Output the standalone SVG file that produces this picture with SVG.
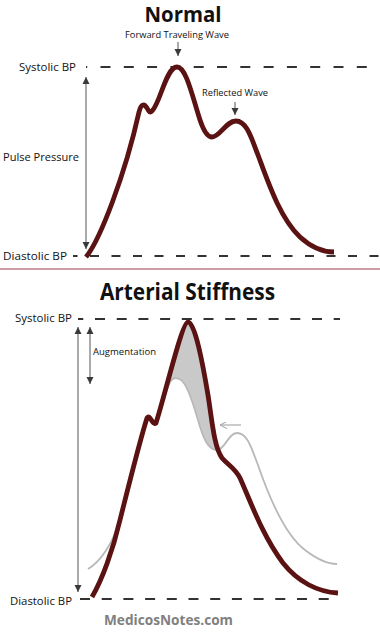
<svg xmlns="http://www.w3.org/2000/svg" width="380" height="637" viewBox="0 0 380 637">
<style>
.t{font-family:"Open Sans","Noto Sans","Liberation Sans",sans-serif;fill:#111;}
.b{font-weight:bold;}
.dash{stroke:#333;stroke-width:2;fill:none;}
.ar{stroke:#555;stroke-width:1;fill:none;}
.wave{stroke:#5a1212;stroke-width:4.8;fill:none;stroke-linecap:butt;stroke-linejoin:round;}
.gw{stroke:#b8b8b8;stroke-width:1.8;fill:none;}
</style>
<defs>
<marker id="ah" viewBox="0 0 10 10" refX="10" refY="5" markerWidth="7" markerHeight="8" markerUnits="userSpaceOnUse" orient="auto-start-reverse">
<path d="M0,0 L10,5 L0,10 Z" fill="#3a3a3a"/>
</marker>
<marker id="ahg" viewBox="0 0 10 10" refX="10" refY="5" markerWidth="7" markerHeight="7" markerUnits="userSpaceOnUse" orient="auto">
<path d="M0,0 L10,5 L0,10" fill="none" stroke="#aaa" stroke-width="1.5"/>
</marker>
</defs>
<rect width="380" height="637" fill="#fff"/>

<g id="normal-title"><text class="t b" x="183" y="22" font-size="20.5" text-anchor="middle" textLength="77" lengthAdjust="spacingAndGlyphs">Normal</text></g>
<g id="forward-label"><text class="t" x="177" y="38" font-size="9.5" text-anchor="middle" textLength="104" lengthAdjust="spacingAndGlyphs">Forward Traveling Wave</text></g>
<g id="reflected-label"><text class="t" x="235" y="96" font-size="9.5" text-anchor="middle" textLength="66" lengthAdjust="spacingAndGlyphs">Reflected Wave</text></g>
<g id="sys-top"><text class="t" x="19" y="71" font-size="11" textLength="57" lengthAdjust="spacingAndGlyphs">Systolic BP</text>
<line class="dash" x1="86" y1="67" x2="380" y2="67" stroke-dasharray="10 13.3" stroke-dashoffset="8.8"/></g>
<g id="pulse-label"><text class="t" x="3" y="161" font-size="11" textLength="76" lengthAdjust="spacingAndGlyphs">Pulse Pressure</text></g>
<g id="dia-top"><text class="t" x="3" y="260" font-size="11" textLength="64" lengthAdjust="spacingAndGlyphs">Diastolic BP</text>
<line class="dash" x1="73" y1="256" x2="380" y2="256" stroke-dasharray="9 12.5" stroke-dashoffset="4.5"/></g>

<g id="normal-wave">
<path class="wave" d="M86,257 C100,240 125,175 139,112 C141,104 144,103 147,108 C149,112 150,113 152,111 C160,104 166,67 177,67 C186,67 192,95 200,120 C204,132 208,137 212,137 C220,137 226,121 236,121 C247,121 252,140 258,155 C268,182 280,218 300,237 C312,248 325,252 334,252"/>
</g>

<line x1="0" y1="269" x2="380" y2="269" stroke="#9c3c4c" stroke-width="1.2"/>

<g id="stiff-title"><text class="t b" x="187.5" y="300" font-size="23" text-anchor="middle" textLength="175" lengthAdjust="spacingAndGlyphs">Arterial Stiffness</text></g>
<g id="sys-bottom"><text class="t" x="15" y="322" font-size="11" textLength="57" lengthAdjust="spacingAndGlyphs">Systolic BP</text>
<line class="dash" x1="78" y1="319" x2="340" y2="319" stroke-dasharray="10 11.7" stroke-dashoffset="4.7"/></g>
<g id="aug-label"><text class="t" x="93" y="355" font-size="9.5" textLength="63" lengthAdjust="spacingAndGlyphs">Augmentation</text></g>
<g id="dia-bottom"><text class="t" x="10" y="605" font-size="11" textLength="62" lengthAdjust="spacingAndGlyphs">Diastolic BP</text>
<line class="dash" x1="78" y1="599" x2="340" y2="599" stroke-dasharray="10 11.7" stroke-dashoffset="-2"/></g>

<g id="stiff-waves">
<path d="M156,423 C165,395 182,322 188,322 C195,322 203,365 208,395 C211,415 213,438 217,450 C208,450 203,438 198,420 C192,400 186,381 179,379 C176,378 173,377 170,382 C165,392 161,412 156,423 Z" fill="#c9c9c9"/>
<path class="gw" d="M88,569 C100,562 112,545 120,520 C128,488 140,440 147,418 C150,413 152,426 156,423 C161,412 165,392 170,382 C173,377 176,378 179,379 C186,381 192,400 198,420 C203,438 208,450 217,450 C225,450 228,433 237,433 C248,433 252,450 258,465 C270,500 285,535 305,550 C318,560 328,564 337,564"/>
<path class="wave" d="M92,597 C102,580 113,550 120,520 C128,488 140,440 147,418 C150,413 152,426 156,423 C165,395 182,322 188,322 C195,322 203,365 208,395 C212,420 214,447 222,458 C228,465 235,468 240,478 C250,500 262,535 283,563 C298,582 318,592 338,593"/>
</g>

<g id="connectors">
<line class="ar" x1="178" y1="42" x2="178" y2="56" marker-end="url(#ah)"/>
<line class="ar" x1="235" y1="102" x2="235" y2="115" marker-end="url(#ah)"/>
<line class="ar" x1="86" y1="77" x2="86" y2="249" marker-start="url(#ah)" marker-end="url(#ah)"/>
<line class="ar" x1="78" y1="327" x2="78" y2="592" marker-start="url(#ah)" marker-end="url(#ah)"/>
<line class="ar" x1="90" y1="327" x2="90" y2="384" marker-start="url(#ah)" marker-end="url(#ah)"/>
<line x1="241" y1="425" x2="220" y2="425" stroke="#aaa" stroke-width="1.2" marker-end="url(#ahg)"/>
</g>

<g id="watermark"><text class="t b" x="104" y="625" font-size="15" fill="#808080" style="fill:#808080" textLength="129" lengthAdjust="spacingAndGlyphs">MedicosNotes.com</text></g>
</svg>
